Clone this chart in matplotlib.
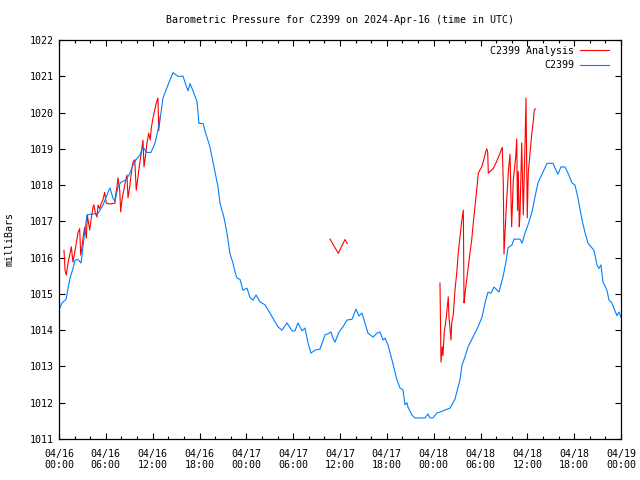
import matplotlib
matplotlib.use("Agg")
import matplotlib.pyplot as plt
import numpy as np

# hours since 2024-04-16 00:00 UTC
obs_hours = [0.00, 0.38, 0.90, 1.41, 1.79, 2.05, 2.43, 2.82, 3.07, 3.33, 3.59, 4.23, 5.00, 5.64,
             6.28, 6.53, 6.92, 7.17, 7.56, 7.94, 8.58, 9.10, 9.48, 9.86, 10.38, 10.76, 11.02,
             11.27, 11.79, 12.30, 12.68, 13.07, 13.32, 13.96, 14.60, 15.24, 15.89, 16.27, 16.53,
             16.78, 17.17, 17.68, 17.93, 18.45, 18.70, 19.34, 19.85, 20.37, 20.63, 21.14, 21.52,
             21.91, 22.29, 22.55, 22.80, 23.19, 23.57, 24.08, 24.47, 24.85, 25.24, 25.75, 26.39,
             27.03, 27.67, 28.06, 28.57, 29.21, 29.85, 30.23, 30.62, 31.13, 31.51, 31.90, 32.28,
             32.80, 33.44, 34.08, 34.46, 34.84, 35.10, 35.36, 35.87, 36.38, 36.89, 37.54, 38.05,
             38.43, 38.82, 39.20, 39.58, 40.23, 40.74, 41.12, 41.51, 41.76, 42.15, 42.66, 43.30,
             43.68, 44.07, 44.33, 44.58, 44.71, 45.22, 45.61, 46.89, 47.27, 47.53, 47.91, 48.42,
             48.81, 49.45, 50.09, 50.73, 51.37, 51.63, 52.01, 52.40, 53.04, 53.68, 54.19, 54.58,
             54.96, 55.34, 55.73, 56.37, 56.88, 57.26, 57.52, 58.03, 58.29, 59.06, 59.32, 59.70,
             60.08, 60.60, 60.98, 61.36, 62.00, 62.52, 63.29, 63.54, 63.92, 64.31, 64.82, 65.21,
             65.72, 66.10, 66.49, 67.00, 67.38, 67.77, 68.15, 68.54, 68.92, 69.17, 69.43, 69.69,
             70.20, 70.46, 70.84, 71.10, 71.48, 71.74, 72.00]
obs_mb = [1014.56, 1014.75, 1014.85, 1015.44, 1015.7, 1015.93, 1015.95, 1015.85, 1016.3, 1016.76,
          1017.18, 1017.2, 1017.22, 1017.45, 1017.8, 1017.92, 1017.64, 1017.55, 1017.95, 1018.08,
          1018.14, 1018.33, 1018.55, 1018.7, 1018.83, 1019.05, 1018.97, 1018.9, 1018.9, 1019.16,
          1019.52, 1020.0, 1020.4, 1020.76, 1021.1, 1021.0, 1021.0, 1020.75, 1020.6, 1020.8,
          1020.6, 1020.3, 1019.7, 1019.7, 1019.5, 1019.05, 1018.5, 1017.95, 1017.5, 1017.1,
          1016.68, 1016.1, 1015.85, 1015.6, 1015.44, 1015.4, 1015.1, 1015.16, 1014.9, 1014.83,
          1014.97, 1014.78, 1014.7, 1014.47, 1014.23, 1014.09, 1014.0, 1014.2, 1013.98, 1013.98,
          1014.2, 1013.98, 1014.06, 1013.65, 1013.37, 1013.45, 1013.48, 1013.87, 1013.9, 1013.95,
          1013.78, 1013.67, 1013.95, 1014.09, 1014.28, 1014.3, 1014.58, 1014.39, 1014.47, 1014.2,
          1013.92, 1013.81, 1013.92, 1013.95, 1013.73, 1013.78, 1013.59, 1013.18, 1012.63,
          1012.41, 1012.35, 1011.94, 1012.0, 1011.88, 1011.66, 1011.58, 1011.58, 1011.69,
          1011.58, 1011.58, 1011.72, 1011.74, 1011.8, 1011.85, 1012.1, 1012.63, 1013.04, 1013.26,
          1013.54, 1013.81, 1014.09, 1014.36, 1014.75, 1015.05, 1015.02, 1015.19, 1015.05,
          1015.47, 1015.88, 1016.27, 1016.35, 1016.51, 1016.51, 1016.4, 1016.68, 1016.9, 1017.26,
          1017.67, 1018.06, 1018.36, 1018.6, 1018.6, 1018.47, 1018.3, 1018.5, 1018.5, 1018.33,
          1018.06, 1018.0, 1017.64, 1017.04, 1016.7, 1016.4, 1016.3, 1016.2, 1015.8, 1015.7,
          1015.8, 1015.33, 1015.1, 1014.83, 1014.75, 1014.6, 1014.4, 1014.5, 1014.36]

# analysis series, three separate pieces
ana1_hours = [0.64, 0.77, 0.94, 1.15, 1.37, 1.58, 1.79, 2.01, 2.22, 2.43, 2.65, 2.78, 2.95, 3.16,
              3.29, 3.50, 3.63, 3.80, 3.93, 4.14, 4.36, 4.48, 4.65, 4.87, 5.00, 5.21, 5.42, 5.64,
              5.85, 6.06, 6.53, 7.17, 7.21, 7.43, 7.56, 7.78, 7.90, 8.07, 8.29, 8.49, 8.71, 8.84,
              9.06, 9.26, 9.48, 9.70, 9.90, 10.12, 10.34, 10.54, 10.76, 10.89, 11.06, 11.27,
              11.49, 11.70, 11.82, 12.04, 12.26, 12.46, 12.68, 12.77, 12.98]
ana1_mb = [1016.2, 1015.66, 1015.52, 1015.85, 1016.07, 1016.3, 1015.88, 1016.13, 1016.4, 1016.68,
           1016.8, 1016.07, 1016.3, 1016.68, 1016.84, 1016.54, 1017.18, 1016.95, 1016.76, 1017.1,
           1017.4, 1017.45, 1017.23, 1017.12, 1017.45, 1017.35, 1017.5, 1017.6, 1017.8, 1017.5,
           1017.48, 1017.5, 1017.67, 1017.95, 1018.2, 1017.86, 1017.26, 1017.6, 1017.86, 1018.08,
           1018.28, 1017.65, 1017.95, 1018.33, 1018.64, 1018.7, 1017.86, 1018.22, 1018.6, 1018.88,
           1019.24, 1018.5, 1018.77, 1019.16, 1019.43, 1019.24, 1019.57, 1019.85, 1020.07,
           1020.26, 1020.4, 1019.5, 1019.9]
ana2_hours = [34.72, 35.78, 36.64, 36.93]
ana2_mb = [1016.51, 1016.12, 1016.5, 1016.39]
ana3_hours = [48.81, 48.94, 49.10, 49.19, 49.36, 49.54, 49.67, 49.80, 49.87, 49.96, 50.09, 50.22,
              50.31, 50.51, 50.73, 50.95, 51.15, 51.37, 51.59, 51.80, 51.89, 52.02, 52.23, 52.44,
              52.65, 52.87, 53.07, 53.29, 53.51, 53.72, 53.93, 54.15, 54.36, 54.57, 54.79, 54.92,
              55.00, 55.21, 55.64, 56.07, 56.50, 56.79, 56.92, 57.01, 57.33, 57.58, 57.78, 57.99,
              58.20, 58.51, 58.64, 58.74, 58.84, 58.97, 59.06, 59.28, 59.48, 59.70, 59.83, 59.99,
              60.12, 60.34, 60.55, 60.76, 60.89, 61.06]
ana3_mb = [1015.3, 1013.12, 1013.54, 1013.3, 1013.96, 1014.23, 1014.47, 1014.75, 1014.92, 1014.37,
           1014.06, 1013.73, 1014.2, 1014.42, 1015.1, 1015.57, 1016.13, 1016.57, 1017.0, 1017.31,
           1014.75, 1015.02, 1015.38, 1015.75, 1016.13, 1016.48, 1016.95, 1017.4, 1017.86,
           1018.33, 1018.42, 1018.5, 1018.65, 1018.83, 1019.0, 1018.92, 1018.33, 1018.37, 1018.46,
           1018.65, 1018.88, 1019.04, 1018.06, 1016.1, 1017.5, 1018.4, 1018.85, 1016.85, 1018.14,
           1018.78, 1019.27, 1017.3, 1018.37, 1016.85, 1017.2, 1019.16, 1017.18, 1019.1, 1020.4,
           1017.1, 1018.33, 1018.88, 1019.38, 1019.75, 1020.07, 1020.1]

tick_hours = list(range(0, 73, 6))
tick_labels = ["04/16\n00:00", "04/16\n06:00", "04/16\n12:00", "04/16\n18:00",
               "04/17\n00:00", "04/17\n06:00", "04/17\n12:00", "04/17\n18:00",
               "04/18\n00:00", "04/18\n06:00", "04/18\n12:00", "04/18\n18:00",
               "04/19\n00:00"]

plt.rcParams['font.family'] = ['DejaVu Sans Mono']
plt.rcParams['font.size'] = 7.2

fig = plt.figure(figsize=(6.4, 4.8), dpi=100)
ax = fig.add_axes([59/640, 41/480, 562/640, 399/480])

red = '#ff0000'
blue = '#0080ff'
ana_h = ana1_hours + [np.nan] + ana2_hours + [np.nan] + ana3_hours
ana_p = ana1_mb + [np.nan] + ana2_mb + [np.nan] + ana3_mb
ax.plot(ana_h, ana_p, color=red, lw=0.8, label='C2399 Analysis')
ax.plot(obs_hours, obs_mb, color=blue, lw=0.8, label='C2399')

ax.set_xlim(0, 72)
ax.set_ylim(1011, 1022)
ax.set_xticks(tick_hours)
ax.set_xticklabels(tick_labels)
ax.set_xticks(range(0, 73, 2), minor=True)
ax.set_yticks(range(1011, 1023))
ax.tick_params(which='both', direction='in', top=True, right=True, width=0.8)
ax.tick_params(which='major', length=4.5, pad=7)
ax.tick_params(which='minor', length=2.5)
ax.tick_params(axis='y', pad=4)
for s in ax.spines.values():
    s.set_linewidth(0.9)

ax.set_ylabel('milliBars', labelpad=11)
ax.set_title('Barometric Pressure for C2399 on 2024-Apr-16 (time in UTC)', fontsize=7.2, pad=12)

ax.legend(loc='upper right', bbox_to_anchor=(0.986, 0.995), frameon=False, markerfirst=False,
          handlelength=2.9, handletextpad=0.6, labelspacing=0.45, borderaxespad=0.0,
          borderpad=0.4)

fig.savefig('out.png', dpi=100)
